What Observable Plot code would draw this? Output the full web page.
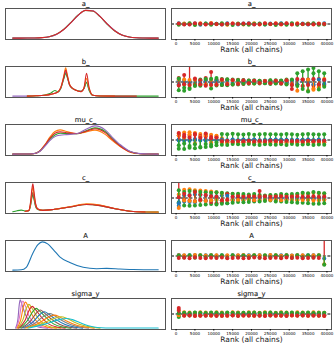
<!DOCTYPE html>
<html><head><meta charset="utf-8">
<script src="https://cdn.jsdelivr.net/npm/d3@7"></script>
<script src="https://cdn.jsdelivr.net/npm/@observablehq/plot@0.6"></script>
<style>
html,body{margin:0;padding:0;background:#fff;}
#root{position:relative;width:336px;height:348px;overflow:hidden;font-family:"DejaVu Sans",sans-serif;}
#root > div{position:absolute;}
</style></head><body><div id="root"></div>
<script>
// ---------- data ----------
const titles = ["a_", "b_", "mu_c_", "c_", "A", "sigma_y"];
const rankTicks = [0, 5000, 10000, 15000, 20000, 25000, 30000, 35000, 40000];
const binCenters = [714, 2143, 3571, 5000, 6429, 7857, 9286, 10714, 12143, 13571, 15000, 16429, 17857, 19286, 20714, 22143, 23571, 25000, 26429, 27857, 29286, 30714, 32143, 33571, 35000, 36429, 37857, 39286];
const meanCount = 357;
const C = {blue: "#1f77b4", orange: "#ff7f0e", green: "#2ca02c", red: "#d62728", purple: "#9467bd", brown: "#8c564b", pink: "#e377c2", gray: "#7f7f7f", olive: "#bcbd22", cyan: "#17becf"};

// KDE curves (relative x 0..100, density normalised to 1)
const kde_a_x = [0,5,10,15,20,25,30,35,40,45,50,55,60,65,70,75,80,85,90,95,100];
const kde_a_green  = [0,0,0.001,0.004,0.016,0.05,0.14,0.31,0.56,0.82,0.98,0.96,0.76,0.49,0.26,0.11,0.04,0.011,0.003,0.001,0];
const kde_a_purple = [0,0,0.001,0.003,0.014,0.048,0.13,0.30,0.55,0.81,0.99,0.97,0.77,0.50,0.27,0.11,0.038,0.011,0.002,0,0];
const kde_a_red    = [0,0,0.001,0.003,0.015,0.049,0.135,0.303,0.551,0.817,0.984,0.964,0.768,0.497,0.262,0.112,0.039,0.011,0.003,0,0];

const kde_b_x = [0,10,16,22,26,29,31,33,35,36.4,37.5,39,40.5,43,47,49,50.7,52.5,55,60,70,85,100];
const kde_b_purple = [0,0,0.01,0.03,0.06,0.1,0.14,0.28,0.62,0.85,0.68,0.4,0.3,0.22,0.17,0.28,0.5,0.22,0.03,0.005,0,null,null];
const kde_b_green  = [null,0,0.01,0.04,0.1,0.2,0.15,0.27,0.6,0.8,0.66,0.4,0.29,0.22,0.17,0.27,0.48,0.2,0.03,0.005,0,0,0];
const kde_b_orange = [null,0,0.01,0.03,0.06,0.1,0.15,0.3,0.7,1.0,0.75,0.42,0.3,0.22,0.16,0.3,0.62,0.26,0.03,0.005,0,null,null];
const kde_b_red    = [null,0,0.01,0.03,0.06,0.1,0.15,0.3,0.66,0.92,0.72,0.41,0.3,0.22,0.16,0.3,0.81,0.3,0.03,0.005,0,0,null];

const kde_mu_x = [0,10,14,18.5,22,25.5,29,32.5,37,44,50,56.5,63.5,68,74,80.5,87.5,94,100];
const kde_mu_orange = [0,0.002,0.01,0.11,0.33,0.6,0.8,0.86,0.8,0.72,0.78,0.85,0.7,0.5,0.26,0.07,0.01,0.002,0];
const kde_mu_green  = [0,0.002,0.01,0.1,0.29,0.52,0.68,0.74,0.73,0.72,0.82,0.93,0.8,0.57,0.3,0.09,0.012,0.002,0];
const kde_mu_red    = [0,0.002,0.01,0.1,0.31,0.56,0.74,0.79,0.76,0.73,0.8,0.9,0.76,0.54,0.28,0.08,0.011,0.002,0];
const kde_mu_purple = [0,0.002,0.01,0.09,0.27,0.48,0.62,0.67,0.69,0.72,0.87,1.0,0.86,0.62,0.33,0.1,0.015,0.002,0];

const kde_c_x = [0,3,5.8,8.5,11,12.2,13.1,13.8,14.6,15.7,17.1,20.7,28.8,39.2,50.7,60,70.3,82.7,91,100];
const kde_c_green  = [0.01,0.05,0.07,0.04,0.05,0.22,0.5,0.62,0.45,0.2,0.09,0.06,0.1,0.18,0.27,0.23,0.12,0.02,0.005,0];
const kde_c_brown  = [null,null,null,0.03,0.05,0.25,0.55,0.7,0.5,0.22,0.1,0.06,0.1,0.18,0.28,0.24,0.12,0.02,0.005,0];
const kde_c_orange = [null,null,null,0.03,0.06,0.3,0.7,0.88,0.63,0.27,0.11,0.06,0.1,0.19,0.29,0.25,0.13,0.02,0.005,0];
const kde_c_red    = [null,null,null,0.03,0.06,0.35,0.8,1.0,0.72,0.3,0.12,0.06,0.1,0.18,0.27,0.23,0.12,0.02,0.005,null];

const kde_A_x = [0,5.8,9.3,13.8,17.3,20.3,24,28,32.3,39.2,48.4,57.6,64.5,73.7,82.7,100];
const kde_A_blue = [0,0.01,0.1,0.6,0.9,1.0,0.93,0.72,0.47,0.27,0.1,0.05,0.06,0.04,0.02,0.01];

// sigma_y: one curve per element, [x, density] pairs
const kde_sigma_colors = ["purple","pink","orange","olive","red","green","brown","blue","gray","orange","olive","cyan"];
const kde_sigma_curves = [
  [[2,0],[3.5,0.3],[4.5,0.85],[5.1,1.0],[6.5,0.8],[9,0.45],[13,0.15],[18,0.03],[24,0]],
  [[2.5,0],[4.5,0.35],[6,0.85],[6.9,0.96],[8.5,0.8],[11,0.45],[15,0.16],[21,0.03],[27,0]],
  [[3,0],[5.5,0.3],[7.5,0.8],[8.8,0.92],[10.5,0.78],[13.5,0.45],[18,0.16],[24,0.03],[30,0]],
  [[3.5,0],[7,0.3],[9.5,0.72],[11.1,0.84],[13,0.72],[16.5,0.42],[21,0.16],[27,0.03],[33,0]],
  [[4,0],[8.5,0.28],[11.5,0.66],[13.4,0.77],[15.5,0.66],[19.5,0.4],[24.5,0.15],[31,0.03],[36,0]],
  [[5,0],[10,0.26],[14,0.6],[16.2,0.7],[18.5,0.6],[23,0.37],[28,0.15],[35,0.03],[40,0]],
  [[6,0],[12,0.24],[16.5,0.55],[18.9,0.64],[21.5,0.55],[26,0.34],[32,0.14],[39,0.03],[44,0]],
  [[7,0],[14,0.22],[19,0.5],[21.9,0.58],[24.5,0.5],[29.5,0.31],[36,0.13],[43,0.03],[48,0]],
  [[8,0],[16,0.2],[22,0.45],[25.4,0.52],[28.5,0.45],[33.5,0.28],[40,0.12],[47,0.03],[52,0]],
  [[9,0],[18,0.18],[25,0.4],[28.8,0.46],[32,0.4],[37,0.25],[44,0.1],[51,0.03],[56,0]],
  [[10,0],[20,0.16],[29,0.35],[33.4,0.4],[37,0.35],[42,0.22],[48,0.1],[55,0.03],[60,0]],
  [[11,0],[22,0.14],[32,0.3],[36.9,0.34],[41,0.3],[46,0.2],[52,0.08],[58,0.02],[64,0.005],[100,0.005]]
];

// rank counts minus the mean count, per chain (one or two elements per chain)
const rank_a_blue   = [[18,5,-7,11,-17,14,-2,7,-9,20,2,-14,9,15,-6,3,-12,12,0,17,-8,6,-5,13,-11,8,1,16]];
const rank_a_orange = [[-7,14,9,-13,15,-5,21,-8,6,-16,13,4,-9,-2,17,-10,11,-5,16,-13,9,-7,20,-8,12,-14,14,-1]];
const rank_a_green  = [[-19,-5,15,-22,1,9,-17,5,19,-3,-21,12,-8,-19,5,14,-13,-1,-21,4,-15,15,-18,-2,7,17,-16,-10]];
const rank_a_red    = [[9,-14,-10,18,5,-14,11,-2,-12,3,10,0,12,10,-12,-3,18,-2,9,-4,18,-10,7,1,-4,-7,5,-1]];

const rank_b_blue   = [[40,30,20,-30,25,-40,30,-20,35,-25,30,-30,20,-15,25,-20,15,-25,20,-15,30,-30,45,30,-40,60,-50,35],
                       [-60,-40,-35,45,-30,35,-25,40,-40,30,-25,25,-20,20,-20,15,-20,20,-15,20,-25,35,-50,55,40,-50,60,-40]];
const rank_b_orange = [[-45,-60,-70,-60,-55,50,-65,40,-50,45,-40,35,-30,25,-35,30,-25,20,-30,25,-40,40,-60,-90,-200,-150,-120,-80],
                       [60,55,45,50,-70,-55,45,-60,40,-40,35,-30,25,-30,25,-20,20,-25,25,-30,35,-45,-200,60,50,-180,-90,70]];
const rank_b_green  = [[-190,-130,-140,60,55,-60,-150,-80,70,-75,60,-55,45,-40,40,-35,30,-45,40,-40,60,-70,200,250,290,320,250,200],
                       [80,-200,-160,-90,-85,70,75,90,-70,65,-55,45,-40,35,-35,30,-30,40,-35,35,-55,60,-90,-160,-220,200,-170,-110]];
const rank_b_red    = [[95,160,520,-70,40,95,230,60,-70,55,-60,50,-45,35,-30,25,-30,35,-25,30,-45,-160,-60,-90,60,-80,70,-60],
                       [-80,-50,-70,80,-60,-85,-70,-65,60,-50,45,-45,40,-30,30,-25,25,-30,30,-35,40,-70,70,60,-70,70,-60,50]];

const rank_mu_blue   = [[20,30,15,25,10,20,15,10,5,-10,5,-5,10,-5,5,-10,5,0,-5,10,-5,5,-10,5,0,-5,10,-5],
                        [-10,-20,-15,-5,-10,-20,-5,-15,5,-5,10,-10,5,-5,10,-5,-10,5,10,-5,5,-10,5,-5,10,-5,5,-10]];
const rank_mu_orange = [[150,170,180,160,140,130,120,90,40,-30,-40,-50,-35,-45,-40,-30,-50,-40,-35,-45,-40,-50,-35,-40,-45,-30,-40,-35],
                        [100,60,130,-80,70,110,-60,100,-60,-70,-65,-60,-70,-60,-65,-70,-60,-70,-60,-65,-70,-60,-65,-70,-60,-65,-70,-60]];
const rank_mu_green  = [[-200,-210,-180,-190,-170,-160,-150,-120,140,135,145,130,125,140,120,135,140,130,135,125,140,130,120,135,140,130,125,135],
                        [-120,-80,-140,-100,-160,-90,-110,-60,-110,-115,-90,-100,-110,-95,-105,-115,-100,-105,-110,-100,-115,-95,-110,-105,-100,-115,-105,-110]];
const rank_mu_red    = [[110,120,100,140,90,80,70,60,-40,-50,-45,-40,-50,-45,-55,-40,-50,-45,-40,-50,-45,-40,-55,-45,-50,-40,-45,-50],
                        [160,80,60,120,50,150,40,60,-30,-20,-35,-25,-30,-20,-35,-25,-30,-20,-25,-35,-20,-30,-25,-35,-20,-30,-25,-20]];

const rank_c_blue   = [[-180,60,70,80,70,60,50,40,60,-120,30,20,25,20,15,20,25,15,20,15,20,25,15,20,15,25,20,15],
                       [-120,-80,-90,-100,-60,-70,-50,-40,-60,50,-30,-20,-25,-30,-20,-15,-20,-25,-15,-20,-15,-20,-25,-15,-20,-15,-25,-20]];
const rank_c_orange = [[-230,190,200,180,170,160,150,130,110,100,90,70,60,50,60,50,40,60,50,60,70,60,80,90,100,120,110,100],
                       [80,-60,-70,-80,-60,-70,-50,-40,-60,-50,-45,-40,-50,-40,-45,-50,-40,-45,-40,-50,-45,-40,-50,-45,-40,-60,-50,-45]];
const rank_c_green  = [[-100,-170,-180,-170,-160,-150,-140,130,120,110,100,-90,90,80,-80,70,60,-60,70,-80,80,90,100,-110,110,-130,120,110],
                       [180,140,160,150,140,130,120,-150,-130,-120,-110,100,-100,-90,90,-80,-70,70,-80,90,-90,-100,-110,120,-120,140,-130,-120]];
const rank_c_red    = [[600,-40,-60,-70,80,-60,-90,-120,-100,90,-60,-30,-40,-30,-50,160,-40,-30,-40,-30,-40,-30,-40,-30,-40,-30,-40,-30],
                       [20,100,60,140,-40,70,40,30,-50,-40,30,40,30,40,35,30,40,30,35,40,30,35,40,30,35,40,30,35]];

const rank_A_blue   = [[25,10,15,20,10,15,20,10,15,5,20,10,15,20,10,15,5,20,10,15,20,10,15,10,20,15,10,-60]];
const rank_A_orange = [[15,20,5,25,15,10,20,15,5,20,10,15,25,5,20,15,10,25,15,5,20,10,15,20,5,15,20,-190]];
const rank_A_green  = [[10,-35,20,-40,15,-30,20,-35,15,-40,20,-30,10,-35,20,-40,15,-30,20,-35,15,-40,20,-30,15,-35,20,-200]];
const rank_A_red    = [[-45,-40,-50,-35,-45,-50,-40,-45,-35,-50,-45,-40,-50,-45,-35,-40,-50,-45,-40,-50,-35,-45,-40,-50,-45,-40,-45,600]];

const rank_s_blue   = [[-40,22,14,27,9,18,16,24,11,21,13,26,8,19,17,23,12,20,14,27,9,18,16,22,11,21,13,24],
                       [15,-25,-18,-30,-12,-22,-15,-28,-10,-20,-17,-26,-13,-24,-11,-27,-16,-21,-14,-29,-12,-19,-23,-15,-26,-18,-22,-14]];
const rank_s_orange = [[70,38,33,31,42,36,28,41,34,30,39,37,29,43,33,31,40,35,28,42,36,30,38,34,31,41,33,29],
                       [-30,-36,-28,-40,-33,-31,-38,-29,-35,-42,-30,-34,-37,-28,-39,-32,-36,-30,-41,-33,-29,-37,-35,-31,-40,-28,-34,-38]];
const rank_s_green  = [[-70,-30,-36,-24,-31,-34,-27,-29,-38,-25,-31,-36,-24,-30,-33,-26,-29,-37,-25,-31,-35,-23,-30,-34,-27,-29,-36,-24],
                       [20,30,24,35,28,22,33,27,25,34,29,23,31,26,35,24,28,33,22,30,27,34,25,29,32,23,31,26]];
const rank_s_red    = [[140,-20,-31,-24,-36,-19,-29,-26,-34,-21,-30,-27,-35,-18,-31,-25,-33,-22,-28,-26,-36,-20,-30,-24,-34,-21,-29,-27],
                       [90,-40,-35,-45,-38,-42,-36,-44,-39,-41,-37,-46,-35,-43,-40,-38,-45,-36,-42,-39,-44,-37,-41,-35,-43,-40,-38,-45]];

// ---------- layout ----------
const root = document.getElementById("root");
const rowTop = k => 8 + 58 * k;
const FONT = "DejaVu Sans, sans-serif";

function place(node, left, top, w, h) {
  const d = document.createElement("div");
  d.style.left = left + "px"; d.style.top = top + "px";
  d.style.width = w + "px"; d.style.height = h + "px";
  d.appendChild(node); root.appendChild(d);
}

function toRows(xs, ys, color, key) {
  return xs.map((x, i) => ({x, y: ys[i], color: C[color], key}));
}

function titleMark(k) {
  return Plot.text([titles[k]], {text: d => d, frameAnchor: "top", dy: -4.2, lineAnchor: "middle", fontSize: 6.8, fill: "#222", stroke: "#222", strokeWidth: 0.12});
}

function kdePanel(k, rows) {
  const W = 162, H = 42;
  const p = Plot.plot({
    width: W, height: H, marginTop: 10, marginLeft: 1, marginRight: 1, marginBottom: 1,
    style: {background: "transparent", overflow: "visible", fontFamily: FONT},
    x: {domain: [-5, 105], axis: null},
    y: {domain: [-0.05, 1.05], axis: null},
    color: {type: "identity"},
    marks: [
      Plot.line(rows, {x: "x", y: "y", z: "key", stroke: "color", curve: "monotone-x", strokeWidth: 1.1, clip: true}),
      Plot.frame({stroke: "#555", strokeWidth: 1}),
      titleMark(k)
    ]
  });
  place(p, 4, rowTop(k) - 10, W, H);
}

function rankPanel(k, chains) {
  const W = 170, H = 59;
  const order = ["blue", "orange", "green", "red"];
  const marks = [Plot.ruleY([0], {stroke: "#000", strokeDasharray: "3,1.6", strokeWidth: 1})];
  const nEl = chains.blue.length;
  for (let e = 0; e < nEl; e++) {
    for (const name of order) {
      const vals = chains[name][e];
      marks.push(Plot.ruleX(vals, {x: (d, i) => binCenters[i], y1: 0, y2: d => d, stroke: C[name], strokeWidth: 1.3, clip: true}));
      marks.push(Plot.dot(vals, {x: (d, i) => binCenters[i], y: d => d, r: 2, fill: C[name], stroke: "none", clip: true}));
    }
  }
  marks.push(Plot.frame({stroke: "#555", strokeWidth: 1}));
  marks.push(Plot.axisX({ticks: rankTicks, tickFormat: d3.format("d"), tickSize: 1.5, tickPadding: 1, fontSize: 4, label: null}));
  marks.push(Plot.text(["Rank (all chains)"], {text: d => d, frameAnchor: "bottom", dy: 12.5, fontSize: 7.5, fill: "#222"}));
  marks.push(titleMark(k));
  const p = Plot.plot({
    width: W, height: H, marginTop: 10, marginLeft: 5, marginRight: 5, marginBottom: 18,
    style: {background: "transparent", overflow: "visible", fontFamily: FONT},
    x: {domain: [-1215, 41214]},
    y: {domain: [-meanCount, meanCount], axis: null},
    marks
  });
  place(p, 166, rowTop(k) - 10, W, H);
}

// left column: KDEs
kdePanel(0, [
  ...toRows(kde_a_x, kde_a_green, "green", 0),
  ...toRows(kde_a_x, kde_a_purple, "purple", 1),
  ...toRows(kde_a_x, kde_a_red, "red", 2)
]);
kdePanel(1, [
  ...toRows(kde_b_x, kde_b_purple, "purple", 0),
  ...toRows(kde_b_x, kde_b_green, "green", 1),
  ...toRows(kde_b_x, kde_b_orange, "orange", 2),
  ...toRows(kde_b_x, kde_b_red, "red", 3)
]);
kdePanel(2, [
  ...toRows(kde_mu_x, kde_mu_orange, "orange", 0),
  ...toRows(kde_mu_x, kde_mu_green, "green", 1),
  ...toRows(kde_mu_x, kde_mu_red, "red", 2),
  ...toRows(kde_mu_x, kde_mu_purple, "purple", 3)
]);
kdePanel(3, [
  ...toRows(kde_c_x, kde_c_green, "green", 0),
  ...toRows(kde_c_x, kde_c_brown, "brown", 1),
  ...toRows(kde_c_x, kde_c_orange, "orange", 2),
  ...toRows(kde_c_x, kde_c_red, "red", 3)
]);
kdePanel(4, toRows(kde_A_x, kde_A_blue, "blue", 0));
kdePanel(5, kde_sigma_curves.flatMap((pts, j) => pts.map(([x, y]) => ({x, y, color: C[kde_sigma_colors[j]], key: j}))));

// right column: rank plots
rankPanel(0, {blue: rank_a_blue, orange: rank_a_orange, green: rank_a_green, red: rank_a_red});
rankPanel(1, {blue: rank_b_blue, orange: rank_b_orange, green: rank_b_green, red: rank_b_red});
rankPanel(2, {blue: rank_mu_blue, orange: rank_mu_orange, green: rank_mu_green, red: rank_mu_red});
rankPanel(3, {blue: rank_c_blue, orange: rank_c_orange, green: rank_c_green, red: rank_c_red});
rankPanel(4, {blue: rank_A_blue, orange: rank_A_orange, green: rank_A_green, red: rank_A_red});
rankPanel(5, {blue: rank_s_blue, orange: rank_s_orange, green: rank_s_green, red: rank_s_red});
</script></body></html>
